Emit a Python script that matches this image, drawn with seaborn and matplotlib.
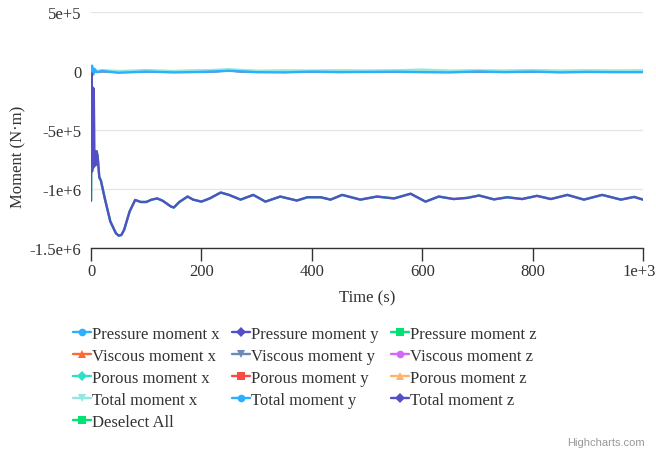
import matplotlib
matplotlib.use("Agg")
import matplotlib.pyplot as plt
import matplotlib.transforms as mtransforms
from matplotlib.lines import Line2D
from matplotlib.ticker import FixedLocator, FixedFormatter
import seaborn as sns
import pandas as pd

# ---------------- data ----------------
series_names = [
    "Pressure moment x", "Pressure moment y", "Pressure moment z",
    "Viscous moment x", "Viscous moment y", "Viscous moment z",
    "Porous moment x", "Porous moment y", "Porous moment z",
    "Total moment x", "Total moment y", "Total moment z",
]
series_colors = [
    "#2caffe", "#544fc5", "#00e272", "#fe6a35", "#6b8abc", "#d568fb",
    "#2ee0ca", "#fa4b42", "#feb56a", "#91e8e1", "#2caffe", "#544fc5",
]
series_markers = ["o", "D", "s", "^", "v", "o", "D", "s", "^", "v", "o", "D"]

# time grid of the large z-moment curve (s)
t_z = [0, 1, 2, 3, 4, 5, 6, 7, 8, 10, 12, 15, 18, 25, 35, 45, 50, 55, 60, 70,
       80, 90, 100, 110, 120, 130, 145, 150, 160, 175, 185, 200, 215, 235, 250,
       271, 294, 316, 343, 373, 392, 416, 434, 455, 488, 518, 549, 579, 606, 630,
       657, 682, 703, 730, 754, 781, 808, 833, 863, 893, 926, 960, 984, 1000]
total_z = [-1.10e6, -0.02e6, -0.85e6, -0.14e6, -0.82e6, -0.15e6, -0.80e6, -0.68e6,
           -0.80e6, -0.68e6, -0.72e6, -0.90e6, -0.93e6, -1.08e6, -1.275e6, -1.374e6,
           -1.395e6, -1.39e6, -1.346e6, -1.19e6, -1.093e6, -1.11e6, -1.11e6, -1.09e6,
           -1.08e6, -1.10e6, -1.149e6, -1.157e6, -1.11e6, -1.064e6, -1.09e6, -1.107e6,
           -1.08e6, -1.03e6, -1.05e6, -1.09e6, -1.05e6, -1.107e6, -1.064e6, -1.098e6,
           -1.07e6, -1.07e6, -1.09e6, -1.05e6, -1.09e6, -1.064e6, -1.08e6, -1.04e6,
           -1.107e6, -1.064e6, -1.085e6, -1.075e6, -1.055e6, -1.088e6, -1.07e6,
           -1.085e6, -1.058e6, -1.085e6, -1.05e6, -1.09e6, -1.05e6, -1.09e6,
           -1.067e6, -1.09e6]
pressure_z = total_z  # hidden under total moment z

# time grid of the near-zero components (s)
t_small = [0, 2, 4, 6, 10, 20, 50, 100, 150, 200, 250, 300, 350, 400, 450, 500,
           550, 600, 650, 700, 750, 800, 850, 900, 950, 1000]
total_y = [0, 45e3, -30e3, 20e3, -10e3, 0, -15e3, -5e3, -12e3, -8e3, 2e3, -10e3,
           -12e3, -5e3, -10e3, -8e3, -6e3, -10e3, -12e3, -4e3, -10e3, -5e3, -12e3,
           -8e3, -10e3, -10e3]
total_x = [0, 30e3, -10e3, 10e3, 0, 5e3, 0, 5e3, 0, 3e3, 15e3, 0, 3e3, 2e3, 5e3,
           3e3, 5e3, 12e3, 2e3, 5e3, 3e3, 8e3, 2e3, 5e3, 3e3, 5e3]
porous_z = [0, 10e3, -5e3, 5e3, 0, 2e3, -3e3, 2e3, -2e3, 5e3, 8e3, 0, 2e3, 0, 3e3,
            0, 2e3, 5e3, 0, 2e3, 0, 3e3, 0, 2e3, 0, 2e3]
small_other = [0, 20e3, -15e3, 10e3, -5e3, 0, -5e3, 0, -5e3, -3e3, 3e3, -5e3, -5e3,
               -2e3, -5e3, -3e3, -3e3, -5e3, -5e3, -2e3, -5e3, -2e3, -5e3, -3e3,
               -5e3, -5e3]

series_data = {
    "Pressure moment x": (t_small, small_other),
    "Pressure moment y": (t_small, small_other),
    "Pressure moment z": (t_z, pressure_z),
    "Viscous moment x": (t_small, small_other),
    "Viscous moment y": (t_small, small_other),
    "Viscous moment z": (t_small, small_other),
    "Porous moment x": (t_small, small_other),
    "Porous moment y": (t_small, small_other),
    "Porous moment z": (t_small, porous_z),
    "Total moment x": (t_small, total_x),
    "Total moment y": (t_small, total_y),
    "Total moment z": (t_z, total_z),
}

x_ticks = [0, 200, 400, 600, 800, 1000]
x_tick_labels = ["0", "200", "400", "600", "800", "1e+3"]
y_ticks = [-1.5e6, -1e6, -5e5, 0, 5e5]
y_tick_labels = ["-1.5e+6", "-1e+6", "-5e+5", "0", "5e+5"]

# ---------------- plot ----------------
sns.set_theme(style="white")
plt.rcParams["font.family"] = ["Liberation Serif", "DejaVu Serif"]

FS = 12
fig = plt.figure(figsize=(6.56, 4.52), dpi=100)
ax = fig.add_axes([91 / 656, 1 - 249 / 452, (643 - 91) / 656, (249 - 13) / 452])

for name, color in zip(series_names, series_colors):
    t, v = series_data[name]
    df = pd.DataFrame({"t": t, "v": v})
    sns.lineplot(data=df, x="t", y="v", ax=ax, color=color, linewidth=1.7,
                 legend=False, zorder=3)

ax.set_xlim(0, 1000)
ax.set_ylim(-1.5e6, 5e5)
ax.xaxis.set_major_locator(FixedLocator(x_ticks))
ax.xaxis.set_major_formatter(FixedFormatter(x_tick_labels))
ax.yaxis.set_major_locator(FixedLocator(y_ticks))
ax.yaxis.set_major_formatter(FixedFormatter(y_tick_labels))

ax.grid(axis="y", color="#e6e6e6", linewidth=1.0, zorder=0)
ax.grid(axis="x", visible=False)
for side in ["top", "right", "left"]:
    ax.spines[side].set_visible(False)
ax.spines["bottom"].set_color("#333333")
ax.spines["bottom"].set_linewidth(1.0)
ax.tick_params(axis="x", bottom=True, length=9, width=1, color="#333333",
               labelsize=FS, labelcolor="#333333", pad=2)
ax.tick_params(axis="y", left=False, length=0, labelsize=FS, labelcolor="#333333",
               pad=7)

# keep the last x label inside the figure (Highcharts nudges it left)
last_lbl = ax.get_xticklabels()[-1]
last_lbl.set_transform(last_lbl.get_transform() +
                       mtransforms.ScaledTranslation(-4 / 100, 0, fig.dpi_scale_trans))

ax.set_xlabel("Time (s)", fontsize=FS, color="#333333", labelpad=7)
ax.set_ylabel("")
fig.text(18 / 656, 1 - 157 / 452, "Moment (N·m)", rotation=90, ha="center",
         va="center", fontsize=FS, color="#333333")

# legend (row-major order like Highcharts)
handles = []
labels = []
for name, color, mk in zip(series_names, series_colors, series_markers):
    handles.append(Line2D([0], [0], color=color, linewidth=1.7, marker=mk,
                          markersize=5.5, markeredgewidth=0))
    labels.append(name)
handles.append(Line2D([0], [0], color="#00e272", linewidth=1.7, marker="s",
                      markersize=5.5, markeredgewidth=0))
labels.append("Deselect All")

order = [0, 3, 6, 9, 12, 1, 4, 7, 10, 2, 5, 8, 11]
leg = fig.legend([handles[i] for i in order], [labels[i] for i in order],
                 ncol=3, loc="upper left", bbox_to_anchor=(73 / 656, 1 - 327 / 452),
                 frameon=False, fontsize=FS, handlelength=1.08, handletextpad=0.08,
                 columnspacing=0.72, labelspacing=0.36, borderaxespad=0, borderpad=0)
for txt in leg.get_texts():
    txt.set_color("#333333")

fig.text(645 / 656, 1 - 443 / 452, "Highcharts.com", ha="right", va="center",
         fontsize=8, color="#999999", family=["Liberation Sans", "DejaVu Sans"])

fig.savefig("out.png", dpi=100)
